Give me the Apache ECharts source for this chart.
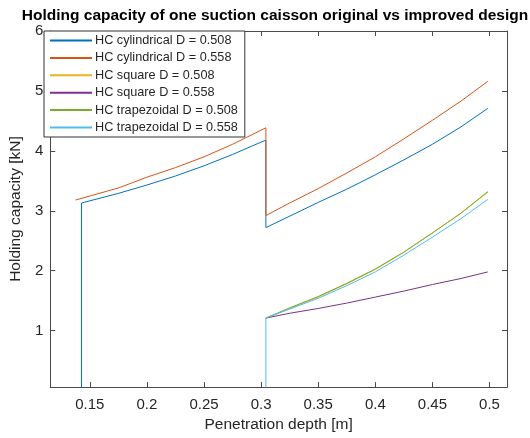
<!DOCTYPE html>
<html>
<head>
<meta charset="utf-8">
<script src="https://cdn.jsdelivr.net/npm/echarts@6/dist/echarts.min.js"></script>
<style>
html,body{margin:0;padding:0;background:#fff;}
#chart{width:530px;height:438px;}
</style>
</head>
<body>
<div id="chart"></div>
<script>
// ---- data ----
const seriesNames = [
  'HC cylindrical D = 0.508',
  'HC cylindrical D = 0.558',
  'HC square D = 0.508',
  'HC square D = 0.558',
  'HC trapezoidal D = 0.508',
  'HC trapezoidal D = 0.558'
];
// penetration depth [m]
const cylD508Depth = [0.1428, 0.1428, 0.175, 0.2, 0.225, 0.25, 0.275, 0.3042, 0.3042, 0.325, 0.35, 0.375, 0.4, 0.425, 0.45, 0.475, 0.4985];
const cylD558Depth = [0.1376, 0.175, 0.2, 0.225, 0.25, 0.275, 0.3042, 0.3042, 0.325, 0.35, 0.375, 0.4, 0.425, 0.45, 0.475, 0.4985];
const lowerDepth   = [0.3042, 0.325, 0.35, 0.375, 0.4, 0.425, 0.45, 0.475, 0.4985];
const trD558Depth  = [0.3042, 0.3042, 0.325, 0.35, 0.375, 0.4, 0.425, 0.45, 0.475, 0.4985];
// holding capacity [kN]
const cylD508HC  = [0, 3.13, 3.29, 3.43, 3.58, 3.75, 3.94, 4.18, 2.72, 2.91, 3.14, 3.36, 3.60, 3.85, 4.11, 4.40, 4.71];
const cylD558HC  = [3.18, 3.38, 3.56, 3.72, 3.90, 4.11, 4.385, 2.92, 3.13, 3.37, 3.63, 3.90, 4.20, 4.51, 4.83, 5.16];
const sqD508HC   = [1.21, 1.37, 1.56, 1.78, 2.02, 2.31, 2.63, 2.96, 3.31];
const sqD558HC   = [1.21, 1.29, 1.37, 1.46, 1.56, 1.66, 1.77, 1.87, 1.98];
const trD508HC   = [1.21, 1.38, 1.57, 1.79, 2.03, 2.31, 2.63, 2.96, 3.32];
const trD558HC   = [0, 1.21, 1.36, 1.54, 1.75, 1.98, 2.26, 2.56, 2.87, 3.19];
// axis ticks
const xTicks = [0.15, 0.2, 0.25, 0.3, 0.35, 0.4, 0.45, 0.5];
const yTicks = [1, 2, 3, 4, 5, 6];
const xRange = [0.1154, 0.5153];
const yRange = [0.058, 6];

const colors = ['#0072BD', '#D95319', '#EDB120', '#7E2F8E', '#77AC30', '#4DBEEE'];
const zip = (xs, ys) => xs.map((x, i) => [x, ys[i]]);
const seriesData = [
  zip(cylD508Depth, cylD508HC),
  zip(cylD558Depth, cylD558HC),
  zip(lowerDepth, sqD508HC),
  zip(lowerDepth, sqD558HC),
  zip(lowerDepth, trD508HC),
  zip(trD558Depth, trD558HC)
];

const FONT = "'Liberation Sans', Arial, Helvetica, sans-serif";
const AX = '#4a4a4a';
const TXT = '#262626';

const chart = echarts.init(document.getElementById('chart'), null, {renderer: 'canvas'});

const commonX = {
  type: 'value', min: xRange[0], max: xRange[1],
  splitLine: {show: false},
  axisLine: {show: true, onZero: false, lineStyle: {color: AX, width: 1}},
  axisTick: {show: true, inside: true, length: 5, lineStyle: {color: AX}, customValues: xTicks},
  axisLabel: {customValues: xTicks}
};
const commonY = {
  type: 'value', min: yRange[0], max: yRange[1],
  splitLine: {show: false},
  axisLine: {show: true, onZero: false, lineStyle: {color: AX, width: 1}},
  axisTick: {show: true, inside: true, length: 5, lineStyle: {color: AX}, customValues: yTicks},
  axisLabel: {customValues: yTicks}
};

chart.setOption({
  animation: false,
  backgroundColor: '#fff',
  color: colors,
  title: {
    text: 'Holding capacity of one suction caisson original vs improved design',
    left: 275, top: 8, textAlign: 'center', padding: 0,
    textStyle: {fontFamily: FONT, fontSize: 15.5, fontWeight: 'bold', color: '#000'}
  },
  grid: {left: 44, right: 23, top: 31, bottom: 45, containLabel: false},
  legend: {
    orient: 'vertical', left: 44, top: 31,
    padding: [3, 7, 3, 5], itemGap: 4.4, itemWidth: 42, itemHeight: 12,
    backgroundColor: '#fff', borderColor: '#333', borderWidth: 1, borderRadius: 0,
    itemStyle: {opacity: 0},
    data: seriesNames,
    textStyle: {fontFamily: FONT, fontSize: 12.7, color: TXT, padding: [0, 0, 0, -2]}
  },
  xAxis: [
    Object.assign({}, commonX, {
      position: 'bottom',
      name: 'Penetration depth [m]', nameLocation: 'middle', nameGap: 29,
      nameTextStyle: {fontFamily: FONT, fontSize: 15.5, color: TXT},
      axisLabel: {customValues: xTicks, fontFamily: FONT, fontSize: 15, color: TXT, margin: 10,
        formatter: v => String(+v.toFixed(2))}
    }),
    Object.assign({}, commonX, {position: 'top', axisLabel: {show: false}})
  ],
  yAxis: [
    Object.assign({}, commonY, {
      position: 'left',
      name: 'Holding capacity [kN]', nameLocation: 'middle', nameGap: 17,
      nameTextStyle: {fontFamily: FONT, fontSize: 15.5, color: TXT},
      axisLabel: {customValues: yTicks, fontFamily: FONT, fontSize: 15, color: TXT, margin: 7,
        formatter: v => String(+v.toFixed(2))}
    }),
    Object.assign({}, commonY, {position: 'right', axisLabel: {show: false}})
  ],
  series: seriesNames.map((n, i) => ({
    name: n, type: 'line', data: seriesData[i],
    xAxisIndex: 0, yAxisIndex: 0,
    showSymbol: false, symbol: 'none', clip: true,
    lineStyle: {width: 1, color: colors[i]},
    z: 2 + i
  }))
});
</script>
</body>
</html>
